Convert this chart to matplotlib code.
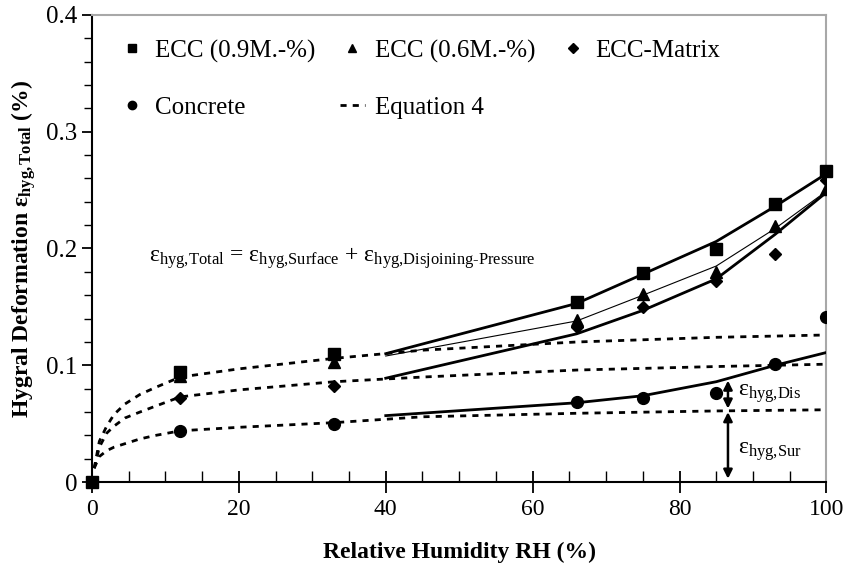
import matplotlib
matplotlib.use("Agg")
import matplotlib.pyplot as plt
from matplotlib.lines import Line2D
from matplotlib.ticker import MultipleLocator

plt.rcParams["font.family"] = ["Liberation Serif", "DejaVu Serif"]
plt.rcParams["mathtext.fontset"] = "custom"
plt.rcParams["mathtext.rm"] = "Liberation Serif"
plt.rcParams["mathtext.it"] = "Liberation Serif:italic"
plt.rcParams["mathtext.bf"] = "Liberation Serif:bold"

# measured data (RH in %, deformation in %)
rh_sq = [0, 12, 33, 66, 75, 85, 93, 100]
ecc_09 = [0.0, 0.094, 0.110, 0.154, 0.179, 0.200, 0.238, 0.266]
rh_pts = [12, 33, 66, 75, 85, 93, 100]
ecc_06 = [0.091, 0.103, 0.139, 0.161, 0.180, 0.219, 0.251]
ecc_matrix = [0.072, 0.082, 0.133, 0.150, 0.172, 0.195, 0.259]
concrete = [0.044, 0.050, 0.069, 0.072, 0.076, 0.101, 0.141]

# total deformation curves (solid)
rh_fit = [40, 66, 75, 85, 93, 100]
fit_09 = [0.110, 0.153, 0.178, 0.206, 0.236, 0.264]
fit_06 = [0.108, 0.138, 0.160, 0.185, 0.217, 0.249]
fit_matrix = [0.089, 0.127, 0.147, 0.174, 0.212, 0.248]
fit_concrete = [0.057, 0.068, 0.074, 0.086, 0.100, 0.111]

# Equation 4 curves (dashed)
rh_eq = [0.3, 1, 2, 3, 4.5, 6.5, 8.6, 12, 20, 33, 45, 66, 85, 100]
eq_ecc = [0.012, 0.035, 0.048, 0.058, 0.067, 0.075, 0.081, 0.090, 0.097, 0.106, 0.113, 0.120, 0.124, 0.126]
eq_matrix = [0.012, 0.030, 0.042, 0.048, 0.055, 0.060, 0.065, 0.073, 0.079, 0.086, 0.090, 0.096, 0.099, 0.101]
eq_concrete = [0.012, 0.022, 0.027, 0.030, 0.033, 0.037, 0.040, 0.044, 0.047, 0.051, 0.056, 0.059, 0.061, 0.062]

fig = plt.figure(figsize=(8.48, 5.68), dpi=100)
ax = fig.add_axes([0.1085, 0.151, 0.866, 0.823])

dash = (0, (2.2, 2.2))
for y in (eq_ecc, eq_matrix, eq_concrete):
    ax.plot(rh_eq, y, color="black", lw=2.0, linestyle=dash, zorder=2)

ax.plot(rh_fit, fit_09, color="black", lw=2.0, zorder=3)
ax.plot(rh_fit, fit_06, color="black", lw=0.8, zorder=3)
ax.plot(rh_fit, fit_matrix, color="black", lw=2.0, zorder=3)
ax.plot(rh_fit, fit_concrete, color="black", lw=2.0, zorder=3)

ax.plot(rh_pts, concrete, "o", color="black", ms=8.5, zorder=4)
ax.plot(rh_pts, ecc_matrix, "D", color="black", ms=6.5, zorder=4)
ax.plot(rh_pts, ecc_06, "^", color="black", ms=8.5, zorder=4)
ax.plot(rh_sq, ecc_09, "s", color="black", ms=8.5, zorder=5, clip_on=False)

# arrows for surface / disjoining pressure parts
arr = dict(arrowstyle="<|-|>", color="black", lw=1.8, mutation_scale=13, shrinkA=0, shrinkB=0)
ax.annotate("", xy=(86.6, 0.063), xytext=(86.6, 0.087), arrowprops=arr)
ax.annotate("", xy=(86.6, 0.003), xytext=(86.6, 0.060), arrowprops=arr)
ax.text(88.0, 0.076, "ε$_{\\text{hyg,Dis}}$", fontsize=17, va="center", ha="left")
ax.text(88.0, 0.026, "ε$_{\\text{hyg,Sur}}$", fontsize=17, va="center", ha="left")

ax.text(7.7, 0.192, "ε$_{\\text{hyg,Total}}$ = ε$_{\\text{hyg,Surface}}$ + ε$_{\\text{hyg,Disjoining-Pressure}}$",
        fontsize=17, va="center", ha="left")

ax.set_xlim(0, 100)
ax.set_ylim(0, 0.4)
ax.xaxis.set_major_locator(MultipleLocator(20))
ax.xaxis.set_minor_locator(MultipleLocator(5))
ax.yaxis.set_major_locator(MultipleLocator(0.1))
ax.yaxis.set_minor_locator(MultipleLocator(0.02))
ax.yaxis.set_major_formatter(plt.FuncFormatter(lambda v, p: "0" if v == 0 else f"{v:.1f}"))

ax.tick_params(axis="x", which="major", direction="inout", length=16, width=1.3, labelsize=17, pad=4)
ax.tick_params(axis="x", which="minor", direction="in", length=8, width=1.0)
ax.tick_params(axis="y", which="major", direction="out", length=7, width=1.3, labelsize=18)
ax.tick_params(axis="y", which="minor", direction="out", length=6, width=1.0)

for s in ("left", "bottom"):
    ax.spines[s].set_color("black")
    ax.spines[s].set_linewidth(1.5)
for s in ("top", "right"):
    ax.spines[s].set_color("#a8a8a8")
    ax.spines[s].set_linewidth(1.5)

ax.set_xlabel("Relative Humidity RH (%)", fontsize=17, fontweight="bold", labelpad=16)
ax.set_ylabel("Hygral Deformation ε$_{\\mathbf{hyg,Total}}$ (%)", fontsize=17, fontweight="bold", labelpad=6)

handles = [
    Line2D([], [], marker="s", color="black", ls="none", ms=6),
    Line2D([], [], marker="o", color="black", ls="none", ms=6),
    Line2D([], [], marker="^", color="black", ls="none", ms=6),
    Line2D([], [], color="black", lw=2.0, ls=(0, (2.2, 2.2))),
    Line2D([], [], marker="D", color="black", ls="none", ms=5),
]
labels = ["ECC (0.9M.-%)", "Concrete", "ECC (0.6M.-%)", "Equation 4", "ECC-Matrix"]
ax.legend(handles, labels, ncol=3, loc="upper left", bbox_to_anchor=(0.0375, 0.947),
          frameon=False, fontsize=18, handlelength=1.0, handletextpad=0.4,
          columnspacing=1.0, labelspacing=1.34, borderpad=0, borderaxespad=0)

fig.savefig("out.png", dpi=100)
